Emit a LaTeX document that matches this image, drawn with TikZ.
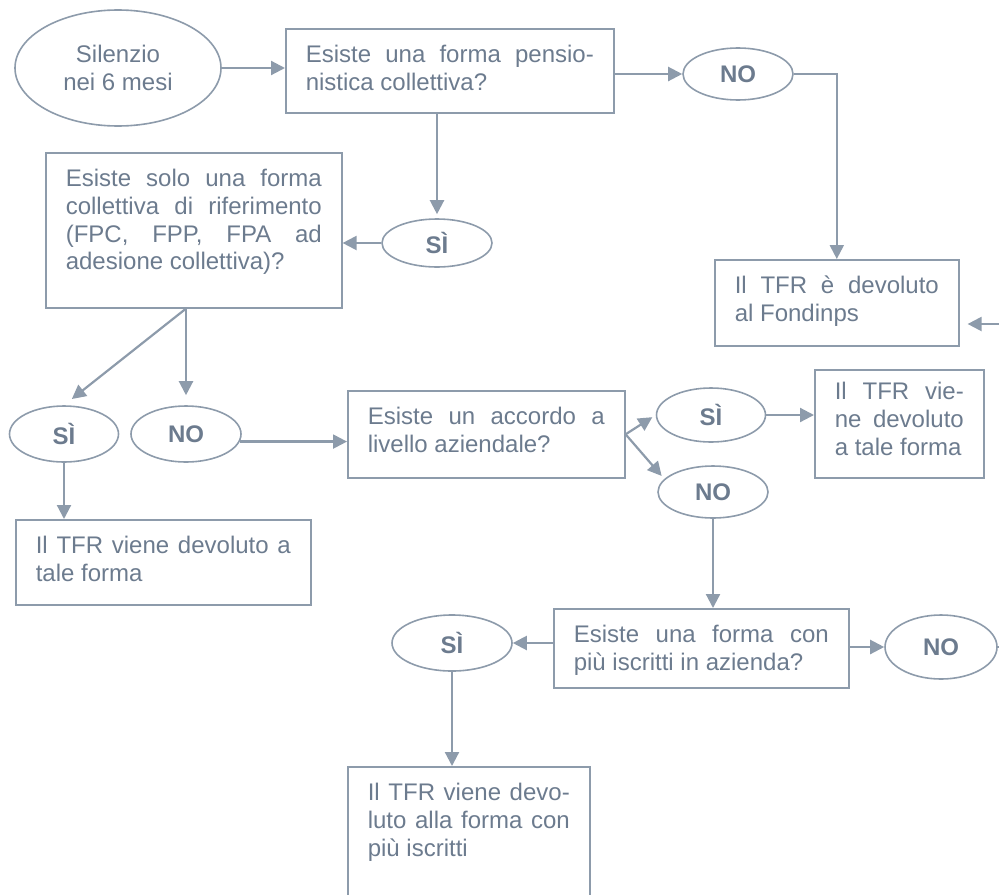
\documentclass[tikz,border=0pt]{standalone}
\usepackage{fontspec}
\setmainfont{Liberation Sans}
\usepackage{tikz}
\usetikzlibrary{arrows.meta,shapes.geometric,calc}
\definecolor{cLine}{HTML}{8D9BAB}
\definecolor{cText}{HTML}{6C7B8E}
\hyphenpenalty=10000
\tolerance=10000
\tikzset{
  qbox/.style={draw=cLine,line width=0.8pt,anchor=north west,text=cText,align=justify,
    inner xsep=10pt,inner ysep=8pt,text height=9pt,
    font=\fontsize{12}{13.8}\selectfont},
  answ/.style={ellipse,draw=cLine,line width=0.8pt,inner sep=0pt,text=cText,
    font=\fontsize{12}{13.8}\selectfont\bfseries},
  flow/.style={draw=cLine,line width=1.1pt,-{Triangle[length=7pt,width=7pt]}},
  link/.style={draw=cLine,line width=1.1pt},
}
\begin{document}
\begin{tikzpicture}[x=0.5pt,y=-0.5pt]
  \useasboundingbox (0,0) rectangle (999,894);
  \clip (0,0) rectangle (999,894);
  % start and first question
  \node[answ,font=\fontsize{12}{13.8}\selectfont,align=center,minimum width=103pt,minimum height=58pt]
    (eStart) at (118,68) {Silenzio\\nei 6 mesi};
  \node[qbox,text width=144pt,text depth=17pt] (qPens) at (285,28)
    {Esiste una forma pensio-\linebreak nistica collettiva?};
  \node[answ,minimum width=55pt,minimum height=26pt] (eNoA) at (738,74) {NO};
  \node[qbox,text width=102pt,text depth=18pt] (rFond) at (714,259)
    {Il TFR è devoluto\linebreak al Fondinps};
  \node[answ,minimum width=55pt,minimum height=24pt] (eSiA) at (437,243) {SÌ};
  \node[qbox,text width=128pt,text depth=52.5pt] (qSolo) at (45,152)
    {Esiste solo una forma\linebreak collettiva di riferimento\linebreak (FPC, FPP, FPA ad\linebreak adesione collettiva)?};
  % second level
  \node[answ,minimum width=54.5pt,minimum height=28pt] (eSiB) at (64,434) {SÌ};
  \node[answ,minimum width=55pt,minimum height=28pt] (eNoB) at (186,434) {NO};
  \node[qbox,text width=127.5pt,text depth=17.5pt] (rTale) at (15,519)
    {Il TFR viene devoluto a\linebreak tale forma};
  \node[qbox,text width=118.5pt,text depth=18.5pt] (qAcc) at (347,390)
    {Esiste un accordo a\linebreak livello aziendale?};
  \node[answ,minimum width=54.5pt,minimum height=27pt] (eSiC) at (711,415) {SÌ};
  \node[qbox,text width=64.5pt,inner ysep=6pt,text depth=33pt] (rVie) at (814,369)
    {Il TFR vie-\linebreak ne devoluto\linebreak a tale forma};
  \node[answ,minimum width=55pt,minimum height=26pt] (eNoC) at (713,492) {NO};
  % third level
  \node[qbox,text width=127.5pt,text depth=14.5pt] (qIscr) at (553,608)
    {Esiste una forma con\linebreak più iscritti in azienda?};
  \node[answ,minimum width=60pt,minimum height=28pt] (eSiD) at (452,643) {SÌ};
  \node[answ,minimum width=56pt,minimum height=32pt] (eNoD) at (941,647) {NO};
  \node[qbox,text width=101pt,text depth=45pt] (rPiu) at (347,766)
    {Il TFR viene devo-\linebreak luto alla forma con\linebreak più iscritti};
  \coordinate (cIn) at (1010,324);
  \coordinate (cOut) at (1010,647);
  \coordinate (split) at (eNoB.north |- qSolo.south);
  % connectors
  \draw[flow] (eStart.east) -- (eStart.east -| qPens.west);
  \draw[flow] (qPens.east |- eNoA.west) -- (eNoA.west);
  \draw[flow] (eNoA.east) -| (rFond.north);
  \draw[flow,shorten >=4pt] (cIn) -- (cIn -| rFond.east);
  \draw[flow,shorten >=2pt] (eSiA.north |- qPens.south) -- (eSiA.north);
  \draw[flow] (eSiA.west) -- (eSiA.west -| qSolo.east);
  \draw[link] (qSolo.south -| split) -- (split);
  \draw[flow,shorten >=5pt] (split) -- (eSiB.north);
  \draw[flow,shorten >=5pt] (split) -- (eNoB.north);
  \draw[flow] (eSiB.south) -- (eSiB.south |- rTale.north);
  \draw[flow] (eNoB.-8) -- (eNoB.-8 -| qAcc.west);
  \draw[flow,shorten >=2pt] (qAcc.east) -- (eSiC.west);
  \draw[flow,shorten >=2pt] (qAcc.east) -- (eNoC.165);
  \draw[flow] (eSiC.east) -- (eSiC.east -| rVie.west);
  \draw[flow] (eNoC.south) -- (eNoC.south |- qIscr.north);
  \draw[flow] (qIscr.west |- eSiD.east) -- (eSiD.east);
  \draw[flow] (qIscr.east |- eNoD.west) -- (eNoD.west);
  \draw[link] (eNoD.east) -- (cOut);
  \draw[flow] (eSiD.south) -- (eSiD.south |- rPiu.north);
\end{tikzpicture}
\end{document}
